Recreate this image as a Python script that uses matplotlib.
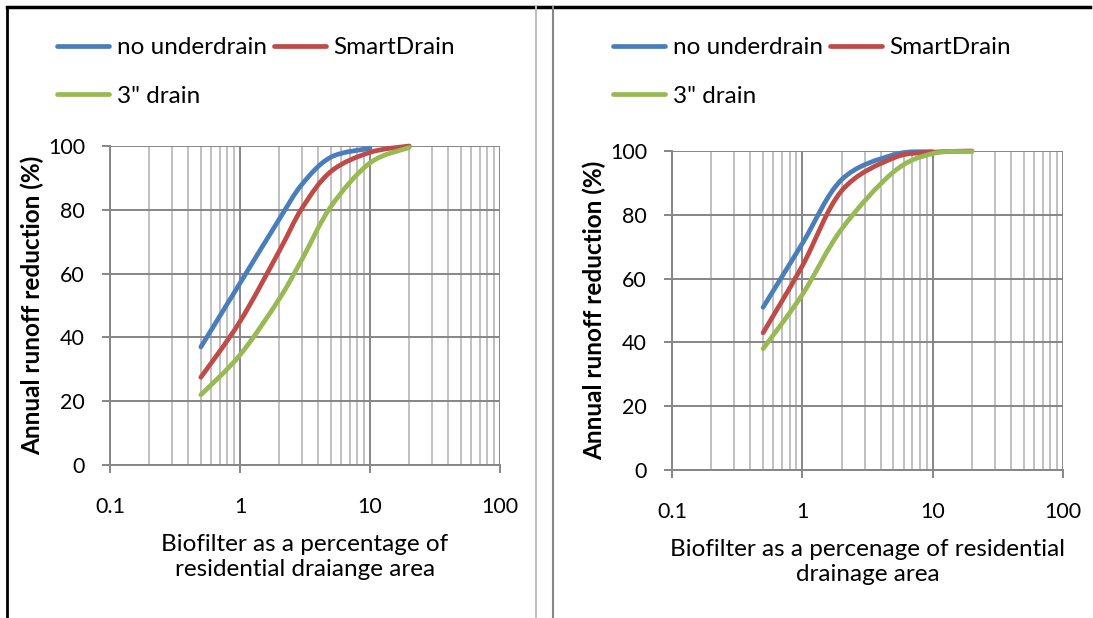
import numpy as np
import matplotlib
matplotlib.use('Agg')
import matplotlib.pyplot as plt
from matplotlib.path import Path
from matplotlib.patches import PathPatch
from matplotlib.lines import Line2D
from matplotlib.ticker import LogLocator, NullFormatter, FixedLocator, FixedFormatter

plt.rcParams['font.family'] = ['Lato', 'DejaVu Sans']

# Left panel data (biofilter % of area vs annual runoff reduction %)
left_x_none = [0.5, 1, 2, 3, 5, 10]
left_y_none = [37, 57, 77, 88, 96.5, 99.3]
left_x_smart = [0.5, 1, 2, 3, 5, 10, 20]
left_y_smart = [27.5, 45, 67, 80.5, 92, 98, 100]
left_x_drain = [0.5, 1, 2, 3, 5, 10, 20]
left_y_drain = [22, 34.5, 52, 64.5, 81, 94.7, 99.5]

# Right panel data
right_x_none = [0.5, 1, 2, 5, 10]
right_y_none = [51, 71, 91, 98.8, 99.8]
right_x_smart = [0.5, 1, 2, 5, 10, 20]
right_y_smart = [43, 64, 87.5, 97.8, 99.6, 100]
right_x_drain = [0.5, 1, 2, 5, 10, 20]
right_y_drain = [38, 55, 75.5, 93.4, 99.2, 99.8]

series_names = ['no underdrain', 'SmartDrain', '3" drain']
colors = ['#4A7EBB', '#BE4B48', '#98B954']
y_ticks = [0, 20, 40, 60, 80, 100]
x_ticks = [0.1, 1, 10, 100]
x_tick_labels = ['0.1', '1', '10', '100']

FS = 17.5      # labels and legend
TFS = 15.5     # tick labels
W, H = 1093.0, 618.0


def smooth_path(xs, ys):
    # Excel-style smoothed line: bezier through the points, in log-x space
    pts = np.column_stack([np.log10(xs), ys])
    n = len(pts)
    verts = [pts[0]]
    codes = [Path.MOVETO]
    for i in range(n - 1):
        p0 = pts[max(i - 1, 0)]
        p1 = pts[i]
        p2 = pts[i + 1]
        p3 = pts[min(i + 2, n - 1)]
        c1 = p1 + (p2 - p0) / 6.0
        c2 = p2 - (p3 - p1) / 6.0
        verts += [c1, c2, p2]
        codes += [Path.CURVE4] * 3
    verts = np.array(verts)
    verts[:, 0] = 10 ** verts[:, 0]
    return Path(verts, codes)


def draw_panel(ax, data, xlabel, leg_x):
    ax.set_xscale('log')
    ax.set_xlim(0.1, 100)
    ax.set_ylim(0, 100)
    ax.xaxis.set_major_locator(FixedLocator(x_ticks))
    ax.xaxis.set_major_formatter(FixedFormatter(x_tick_labels))
    ax.xaxis.set_minor_locator(LogLocator(base=10, subs=np.arange(2, 10)))
    ax.xaxis.set_minor_formatter(NullFormatter())
    ax.set_yticks(y_ticks)
    ax.grid(True, which='major', axis='both', color='#868686', lw=1.4)
    ax.grid(True, which='minor', axis='x', color='#C0C0C0', lw=1.4)
    ax.set_axisbelow(True)
    for s in ['top', 'right']:
        ax.spines[s].set_visible(False)
    for s in ['left', 'bottom']:
        ax.spines[s].set_color('#868686')
        ax.spines[s].set_linewidth(1.4)
    ax.tick_params(axis='both', which='major', direction='out', length=6, width=1.4,
                   color='#868686', labelsize=TFS)
    ax.tick_params(axis='x', which='minor', length=0)
    ax.tick_params(axis='y', pad=12)
    ax.tick_params(axis='x', pad=17)
    for (xs, ys), c in zip(data, colors):
        ax.add_patch(PathPatch(smooth_path(xs, ys), fill=False, edgecolor=c, lw=3.4,
                               capstyle='round', joinstyle='round', clip_on=False, zorder=3))
    ax.set_xlabel(xlabel, fontsize=FS, labelpad=12, linespacing=1.25)
    ax.set_ylabel('Annual runoff reduction (%)', fontsize=FS, fontweight='bold', labelpad=3)
    handles = [Line2D([], [], color=c, lw=3.4, solid_capstyle='round') for c in colors]
    # order so that row 1 = blue, red ; row 2 = green
    ax.legend([handles[0], handles[2], handles[1]],
              [series_names[0], series_names[2], series_names[1]],
              ncol=2, loc='upper left', bbox_to_anchor=(leg_x / W, 1 - 37 / H),
              bbox_transform=fig.transFigure, frameon=False,
              fontsize=FS, handlelength=2.15, handletextpad=0.3, columnspacing=0.3,
              labelspacing=1.15, borderpad=0, borderaxespad=0)


fig = plt.figure(figsize=(10.93, 6.18), dpi=100)
ax1 = fig.add_axes([110 / W, 1 - 465 / H, 390 / W, 319 / H])
ax2 = fig.add_axes([672 / W, 1 - 470 / H, 391 / W, 319 / H])

draw_panel(ax1, [(left_x_none, left_y_none), (left_x_smart, left_y_smart),
                 (left_x_drain, left_y_drain)],
           'Biofilter as a percentage of\nresidential draiange area', 57)
draw_panel(ax2, [(right_x_none, right_y_none), (right_x_smart, right_y_smart),
                 (right_x_drain, right_y_drain)],
           'Biofilter as a percenage of residential\ndrainage area', 613)

# panel frames
fig.add_artist(Line2D([7 / W, 1090 / W], [1 - 7 / H, 1 - 7 / H], color='black', lw=2.5))
fig.add_artist(Line2D([7 / W, 7 / W], [0, 1 - 7 / H], color='black', lw=2))
fig.add_artist(Line2D([536 / W, 536 / W], [0, 1 - 7 / H], color='#BFBFBF', lw=1.5))
fig.add_artist(Line2D([553 / W, 553 / W], [0, 1 - 7 / H], color='#868686', lw=1.5))

fig.savefig('out.png', dpi=100)
